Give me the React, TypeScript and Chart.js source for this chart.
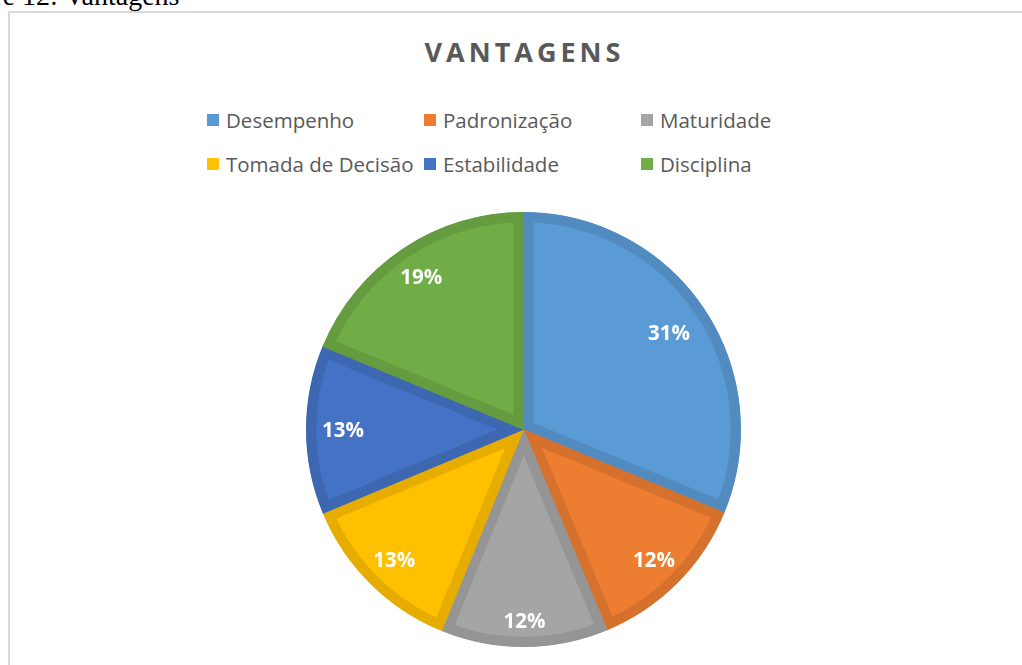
import React, { useEffect, useRef } from 'react';
import { Chart, registerables } from 'chart.js';

Chart.register(...registerables);

// ---- data ----
const categories = ['Desempenho', 'Padronização', 'Maturidade', 'Tomada de Decisão', 'Estabilidade', 'Disciplina'];
const shares = [31.25, 12.45, 12.45, 12.55, 12.55, 18.75];
const chartTitle = 'VANTAGENS';
const caption = 'Figure 12: Vantagens';

// ---- styles ----
const fillColors = ['#5B9BD5', '#ED7D31', '#A5A5A5', '#FFC000', '#4472C4', '#70AD47'];
const edgeColors = ['#518BC0', '#D5712C', '#959595', '#E6AD00', '#3D67B0', '#659C40'];
const labelRadius = [0.805, 0.847, 0.878, 0.844, 0.83, 0.846];
const legendCols = [207, 424, 641];
const legendRows = [120, 164];

const labelPlugin = {
  id: 'pctLabels',
  afterDatasetsDraw(chart: any) {
    const ctx = chart.ctx;
    const meta = chart.getDatasetMeta(0);
    const data = chart.data.datasets[0].data as number[];
    const total = data.reduce((a, b) => a + b, 0);
    ctx.save();
    ctx.fillStyle = '#ffffff';
    ctx.font = 'bold 20.5px "Open Sans"';
    ctx.textAlign = 'center';
    ctx.textBaseline = 'alphabetic';
    meta.data.forEach((arc: any, i: number) => {
      const p = arc.getProps(['x', 'y', 'startAngle', 'endAngle', 'outerRadius'], true);
      const mid = (p.startAngle + p.endAngle) / 2;
      const r = p.outerRadius * labelRadius[i];
      const x = p.x + Math.cos(mid) * r;
      const y = p.y + Math.sin(mid) * r;
      const txt = Math.round((data[i] / total) * 100) + '%';
      ctx.fillText(txt, x, y + 7.3);
    });
    ctx.restore();
  },
};

export default function App() {
  const ref = useRef<HTMLCanvasElement | null>(null);

  useEffect(() => {
    if (!ref.current) return;
    const chart = new Chart(ref.current, {
      type: 'pie',
      data: {
        labels: categories,
        datasets: [
          {
            data: shares,
            backgroundColor: fillColors,
            borderColor: edgeColors,
            borderWidth: 10,
            borderAlign: 'inner',
            borderJoinStyle: 'miter',
          } as any,
        ],
      },
      options: {
        responsive: false,
        animation: false,
        layout: { padding: { top: 212, bottom: 18, left: 25, right: 0 } },
        plugins: {
          legend: { display: false },
          title: { display: false },
          tooltip: { enabled: false },
        },
        events: [],
      },
      plugins: [labelPlugin],
    });
    return () => chart.destroy();
  }, []);

  const legendFont = '20.5px "Open Sans"';

  return (
    <div
      style={{
        position: 'fixed',
        left: 0,
        top: 0,
        width: 1022,
        height: 665,
        overflow: 'hidden',
        background: '#ffffff',
      }}
    >
      <div
        style={{
          position: 'absolute',
          left: -58,
          top: -18,
          font: '28px "Liberation Serif", "Times New Roman", serif',
          lineHeight: '28px',
          whiteSpace: 'nowrap',
          color: '#000',
        }}
      >
        {caption}
      </div>
      <div
        style={{
          position: 'absolute',
          left: 8,
          top: 11,
          width: 1100,
          height: 800,
          border: '2px solid #d9d9d9',
          boxSizing: 'border-box',
        }}
      />
      <div
        style={{
          position: 'absolute',
          left: 524.5,
          top: 38,
          transform: 'translateX(-50%)',
          font: 'bold 27px "Open Sans"',
          lineHeight: '27px',
          letterSpacing: '4px',
          color: '#595959',
          whiteSpace: 'nowrap',
        }}
      >
        {chartTitle}
      </div>
      {categories.map((c, i) => {
        const col = i % 3;
        const row = Math.floor(i / 3);
        return (
          <div
            key={c}
            style={{
              position: 'absolute',
              left: legendCols[col],
              top: legendRows[row] - 12,
              height: 24,
              display: 'flex',
              alignItems: 'center',
              whiteSpace: 'nowrap',
            }}
          >
            <span
              style={{
                display: 'inline-block',
                width: 12,
                height: 12,
                background: fillColors[i],
                marginRight: 7,
              }}
            />
            <span style={{ font: legendFont, lineHeight: '24px', color: '#595959' }}>{c}</span>
          </div>
        );
      })}
      <canvas
        ref={ref}
        width={1022}
        height={665}
        style={{ position: 'absolute', left: 0, top: 0, width: 1022, height: 665 }}
      />
    </div>
  );
}
